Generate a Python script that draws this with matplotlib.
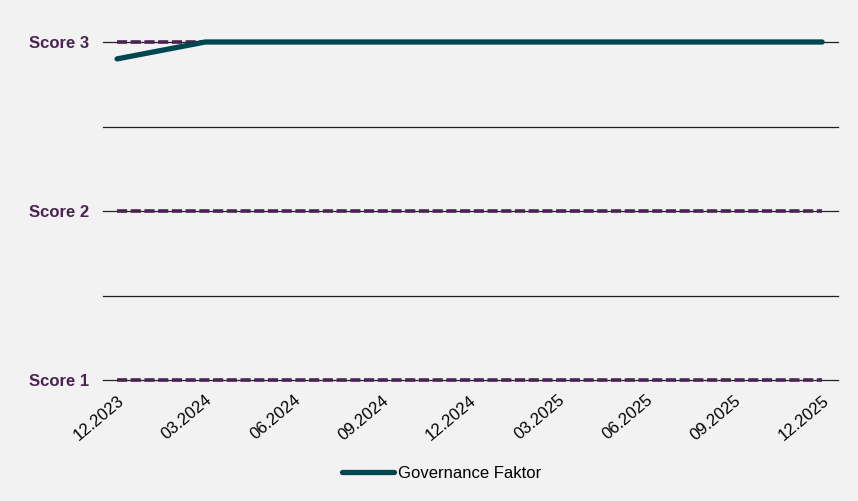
import matplotlib.pyplot as plt

# Daten
quartale = ['12.2023', '03.2024', '06.2024', '09.2024', '12.2024',
            '03.2025', '06.2025', '09.2025', '12.2025']
governance = [2.9, 3, 3, 3, 3, 3, 3, 3, 3]
score_stufen = [1, 2, 3]
score_labels = ['Score 1', 'Score 2', 'Score 3']

bg = '#f2f2f2'
lila = '#4a2352'
petrol = '#00464f'

plt.rcParams['font.family'] = ['Liberation Sans', 'DejaVu Sans']

fig = plt.figure(figsize=(8.58, 5.01), dpi=100, facecolor=bg)
ax = fig.add_axes([103/858, 1-380/501, 735/858, 338/501])
ax.set_facecolor(bg)

x = range(len(quartale))

# Gitterlinien
for g in [1, 1.5, 2, 2.5, 3]:
    ax.axhline(g, color='#222222', lw=0.9, zorder=1, clip_on=False)

# gestrichelte Score-Linien
for s in score_stufen:
    ax.plot([0, len(quartale) - 1], [s, s], color=lila, lw=2.6,
            dashes=(2.8, 1.0), dash_capstyle='butt', zorder=2,
            clip_on=False)

ax.plot(x, governance, color=petrol, lw=3.8, solid_capstyle='round',
        label='Governance Faktor', zorder=3, clip_on=False)

ax.set_xlim(-0.16, 8.18)
ax.set_ylim(1, 3)
ax.set_yticks(score_stufen)
ax.set_yticklabels(score_labels, fontsize=12, fontweight='bold', color=lila)
ax.set_xticks(list(x))
ax.set_xticklabels(quartale, rotation=40, ha='right', rotation_mode='anchor',
                   fontsize=12)
ax.tick_params(length=0)
ax.tick_params(axis='y', pad=10)
ax.tick_params(axis='x', pad=9)
for sp in ax.spines.values():
    sp.set_visible(False)

fig.legend(loc='lower center', bbox_to_anchor=(0.515, 0.01), frameon=False,
           fontsize=12, handlelength=3.1, handletextpad=0.25)

plt.savefig('out.png', dpi=100, facecolor=bg)
